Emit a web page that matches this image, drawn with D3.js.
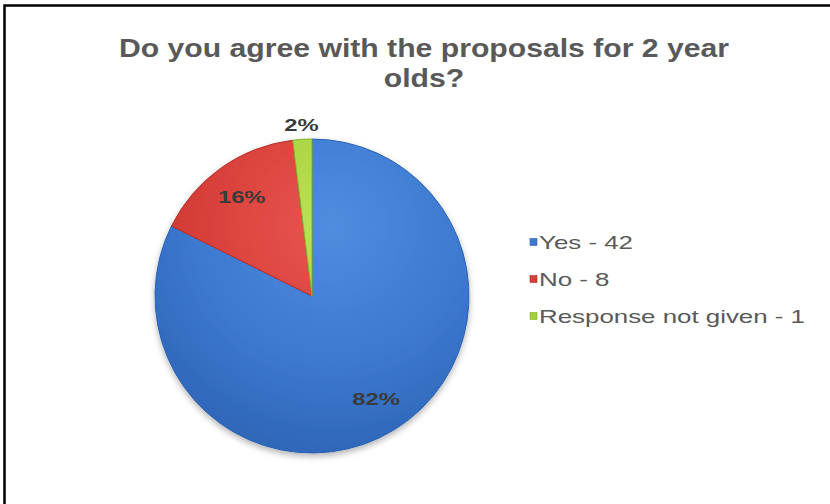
<!DOCTYPE html>
<html>
<head>
<meta charset="utf-8">
<script src="https://cdn.jsdelivr.net/npm/d3@7"></script>
<style>
  body { margin: 0; background: #fff; }
  svg { display: block; }
</style>
</head>
<body>
<svg id="chart" width="830" height="504"></svg>
<script>
var categories = ["Yes", "No", "Response not given"]
var counts = [42, 8, 1]
var percentLabels = ["82%", "16%", "2%"]
var titleLines = ["Do you agree with the proposals for 2 year", "olds?"]

var palette = {
  yes: ["#4f8ddf", "#3c79cf", "#2c62b3"],
  no: ["#ea5650", "#d63e38", "#b72c27"],
  nogiven: ["#bce35a", "#a3cf3a", "#88b324"],
  title: "#595959",
  legend: "#595959",
  label: "#3a3a3a"
}
var colorStops = [palette.yes, palette.no, palette.nogiven]
var font = "Liberation Sans, Arial, sans-serif"

var svg = d3.select("#chart")
var defs = svg.append("defs")

// the picture is a bit wider than tall, so text gets stretched sideways
function stretch(sel, factor){
  sel.each(function(){
    var w = this.getComputedTextLength()
    d3.select(this)
      .attr("textLength", w * factor)
      .attr("lengthAdjust", "spacingAndGlyphs")
  })
}

// chart frame
svg.append("rect")
   .attr("x", 4.5).attr("y", 5.5)
   .attr("width", 840).attr("height", 520)
   .attr("fill", "#fff")
   .attr("stroke", "#000")
   .attr("stroke-width", 2.5)

// title
var title = svg.append("g")
var titleText = title.selectAll("text")
     .data(titleLines)
     .enter()
     .append("text")
     .attr("x", 424)
     .attr("y", function(d, i){ return 57 + i * 30 })
     .attr("text-anchor", "middle")
     .attr("font-family", font)
     .attr("font-weight", "bold")
     .attr("font-size", 26)
     .attr("fill", palette.title)
     .text(function(d){ return d })
var titleFactor = 610 / titleText.node().getComputedTextLength()
stretch(titleText, titleFactor)

// pie
var cx = 312, cy = 296, radius = 157

categories.forEach(function(c, i){
  var g = defs.append("radialGradient")
              .attr("id", "grad" + i)
              .attr("gradientUnits", "userSpaceOnUse")
              .attr("cx", 20).attr("cy", -70)
              .attr("r", radius * 1.6)
  g.append("stop").attr("offset", "0%").attr("stop-color", colorStops[i][0])
  g.append("stop").attr("offset", "55%").attr("stop-color", colorStops[i][1])
  g.append("stop").attr("offset", "100%").attr("stop-color", colorStops[i][2])
})

var shadow = defs.append("filter").attr("id", "shadow")
                 .attr("x", "-20%").attr("y", "-20%")
                 .attr("width", "140%").attr("height", "140%")
shadow.append("feDropShadow")
      .attr("dx", 0).attr("dy", 3)
      .attr("stdDeviation", 3)
      .attr("flood-color", "#000")
      .attr("flood-opacity", 0.3)

var pie = d3.pie().sort(null).value(function(d){ return d })
var arcs = pie(counts)
var arc = d3.arc().innerRadius(0).outerRadius(radius)
var labelArc = d3.arc().innerRadius(0).outerRadius(radius * 1.55)
var outerArc = d3.arc().innerRadius(radius * 1.09).outerRadius(radius * 1.09)

var pieG = svg.append("g")
              .attr("transform", "translate(" + cx + "," + cy + ")")

pieG.append("g")
    .attr("filter", "url(#shadow)")
    .selectAll("path")
    .data(arcs)
    .enter()
    .append("path")
    .attr("d", arc)
    .attr("fill", function(d, i){ return "url(#grad" + i + ")" })
    .attr("stroke", function(d, i){ return colorStops[i][2] })
    .attr("stroke-width", 1)

var labels = pieG.selectAll(".slice-label")
    .data(arcs)
    .enter()
    .append("text")
    .attr("class", "slice-label")
    .attr("transform", function(d, i){
      var p = i == 2 ? outerArc.centroid(d) : labelArc.centroid(d)
      return "translate(" + p[0] + "," + (p[1] + 6) + ")"
    })
    .attr("text-anchor", "middle")
    .attr("font-family", font)
    .attr("font-weight", "bold")
    .attr("font-size", 17)
    .attr("fill", palette.label)
    .text(function(d, i){ return percentLabels[i] })
stretch(labels, 1.4)

// legend
var legend = svg.append("g").attr("transform", "translate(530,242)")
var legendItems = legend.selectAll("g")
    .data(categories)
    .enter()
    .append("g")
    .attr("transform", function(d, i){ return "translate(0," + (i * 37) + ")" })

legendItems.append("rect")
    .attr("x", 0).attr("y", -3.5)
    .attr("width", 7).attr("height", 7)
    .attr("fill", function(d, i){ return colorStops[i][1] })
    .attr("stroke", function(d, i){ return colorStops[i][2] })
    .attr("stroke-width", 0.6)

var legendText = legendItems.append("text")
    .attr("x", 9)
    .attr("y", 6.5)
    .attr("font-family", font)
    .attr("font-size", 18.5)
    .attr("fill", palette.legend)
    .text(function(d, i){ return d + " - " + counts[i] })
var legendFactor = 266 / legendText.nodes()[2].getComputedTextLength()
stretch(legendText, legendFactor)
</script>
</body>
</html>
